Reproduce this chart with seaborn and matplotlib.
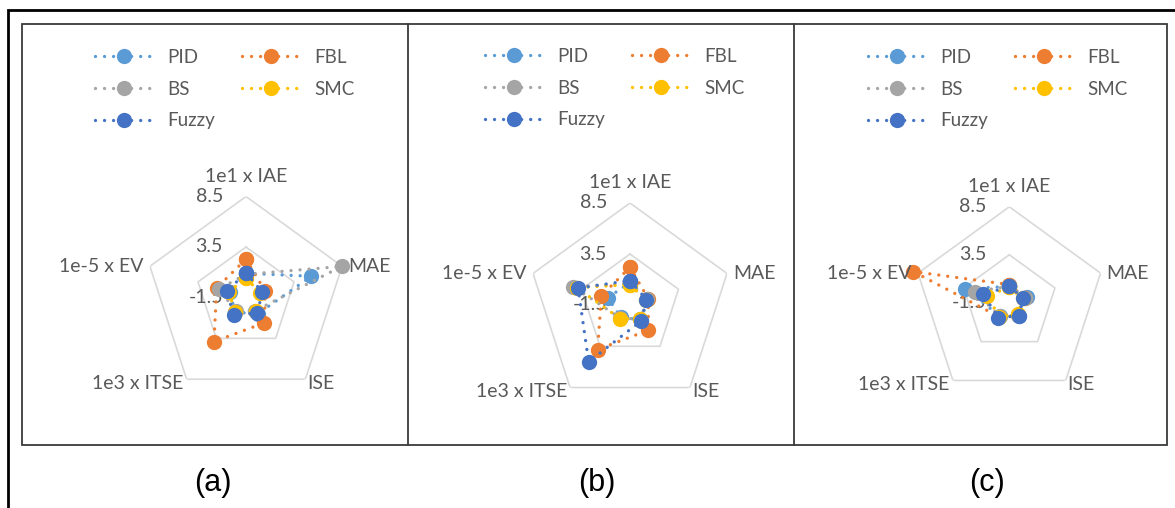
import numpy as np
import pandas as pd
import matplotlib
matplotlib.use("Agg")
import matplotlib.pyplot as plt
import seaborn as sns
from matplotlib.lines import Line2D
from matplotlib.patches import Rectangle
from matplotlib.transforms import ScaledTranslation

# ---------------- data ----------------
categories = ["1e1 x IAE", "MAE", "ISE", "1e3 x ITSE", "1e-5 x EV"]
controllers = ["PID", "FBL", "BS", "SMC", "Fuzzy"]
r_ticks = [-1.5, 3.5, 8.5]
tick_labels = ["-1.5", "3.5", "8.5"]
panel_labels = ["(a)", "(b)", "(c)"]

# panel (a)
pid_a = [0.9, 5.3, 0.5, 0.3, 0.2]
fbl_a = [2.3, 0.5, 1.6, 3.9, 1.55]
bs_a = [0.8, 8.45, 0.1, 0.2, 1.3]
smc_a = [0.4, 0.0, 0.2, 0.3, 0.3]
fuzzy_a = [0.95, 0.2, 0.4, 0.6, 0.5]

# panel (b)
pid_b = [0.7, 0.3, 0.3, 0.0, 0.8]
fbl_b = [2.2, 0.4, 1.55, 3.9, 1.45]
bs_b = [0.6, 0.3, 0.2, 0.1, 4.35]
smc_b = [0.5, 0.1, 0.2, 0.15, 4.0]
fuzzy_b = [0.9, 0.2, 0.4, 5.4, 3.85]

# panel (c)
pid_c = [0.2, 0.4, 0.2, 0.2, 3.3]
fbl_c = [0.4, 0.2, 0.1, 0.3, 9.0]
bs_c = [0.2, 0.2, 0.1, 0.2, 2.3]
smc_c = [0.1, 0.0, 0.0, 0.3, 0.9]
fuzzy_c = [0.2, 0.05, 0.15, 0.45, 1.35]

panels = [
    [pid_a, fbl_a, bs_a, smc_a, fuzzy_a],
    [pid_b, fbl_b, bs_b, smc_b, fuzzy_b],
    [pid_c, fbl_c, bs_c, smc_c, fuzzy_c],
]

colors = {"PID": "#5B9BD5", "FBL": "#ED7D31", "BS": "#A5A5A5",
          "SMC": "#FFC000", "Fuzzy": "#4472C4"}

# ---------------- style ----------------
sns.set_theme(style="white")
plt.rcParams["font.family"] = ["Lato", "DejaVu Sans"]
TXT = "#595959"
DOT = (0, (0.01, 2.7))
FS = 14

W, H = 1175, 508
fig = plt.figure(figsize=(W / 100, H / 100), dpi=100)
fig.patch.set_facecolor("white")

# layout (pixels)
centers = [(246, 297.5, 101), (630, 305, 102), (1009.3, 302.8, 96)]
legend_anchor = [(95, 49), (485, 48), (868, 49)]
label_x = [213, 597, 987]

theta = np.linspace(0, 2 * np.pi, len(categories), endpoint=False)

for pi_, (series, (cx, cy, R)) in enumerate(zip(panels, centers)):
    ax = fig.add_axes([(cx - R) / W, 1 - (cy + R) / H, 2 * R / W, 2 * R / H],
                      projection="polar")
    ax.set_theta_offset(np.pi / 2)
    ax.set_theta_direction(-1)
    ax.patch.set_alpha(0)

    # pentagon grid
    tt = np.append(theta, theta[0])
    for rv in r_ticks[1:]:
        ax.plot(tt, [rv] * len(tt), color="#D9D9D9", lw=1.2, zorder=1)

    rows = []
    for name, vals in zip(controllers, series):
        for step, k in enumerate(list(range(len(categories))) + [0]):
            rows.append({"controller": name,
                         "theta": 2 * np.pi if step == len(categories) else theta[k],
                         "value": vals[k]})
    df = pd.DataFrame(rows)

    sns.lineplot(data=df, x="theta", y="value", hue="controller",
                 hue_order=controllers, palette=colors, estimator=None,
                 sort=False, units="controller", marker="o", markersize=11,
                 markeredgewidth=0, linewidth=2.4, linestyle=DOT,
                 dash_capstyle="round", legend=False, ax=ax, clip_on=False,
                 zorder=3)

    ax.set_ylim(-1.5, 8.5)
    ax.set_xticks([])
    ax.set_yticks([])
    ax.set_xlabel("")
    ax.set_ylabel("")
    ax.grid(False)
    ax.spines["polar"].set_visible(False)

    # radial tick labels
    tr = ax.transData + ScaledTranslation(-23 / 100, 0, fig.dpi_scale_trans)
    for rv, lab in zip(r_ticks, tick_labels):
        ax.text(0, rv, lab, transform=tr, ha="right", va="center",
                fontsize=FS, color=TXT, zorder=2)

    # category labels
    offs = [(0, 20, "center"), (6, 0, "left"), (2, -4, "left"),
            (-3, -4, "right"), (-6, 0, "right")]
    for k, cat in enumerate(categories):
        dx, dy, ha = offs[k]
        t = ax.transData + ScaledTranslation(dx / 100, dy / 100, fig.dpi_scale_trans)
        ax.text(theta[k], 8.5, cat, transform=t, ha=ha, va="center",
                fontsize=FS, color=TXT)

    # legend
    handles = [Line2D([], [], color=colors[c], linestyle=DOT, lw=2.4,
                      dash_capstyle="round", marker="o", markersize=11,
                      markeredgewidth=0) for c in controllers]
    order = [0, 2, 4, 1, 3]
    lx, ly = legend_anchor[pi_]
    fig.legend([handles[i] for i in order], [controllers[i] for i in order],
               ncol=2, loc="upper left",
               bbox_to_anchor=(lx / W, 1 - ly / H),
               frameon=False, handlelength=3.1, handletextpad=0.75,
               columnspacing=1.45, labelspacing=0.78, fontsize=13.5,
               labelcolor=TXT, borderpad=0, borderaxespad=0, numpoints=1)

    fig.text(label_x[pi_] / W, 1 - 483 / H, panel_labels[pi_], ha="center",
             va="center", fontsize=22, color="black", family="Liberation Sans")

# table frame
fig.add_artist(Rectangle((22 / W, 1 - 445 / H), (1167 - 22) / W, (445 - 24) / H,
                         transform=fig.transFigure, fill=False,
                         edgecolor="#3a3a3a", lw=1.3))
for xd in [408, 794]:
    fig.add_artist(Line2D([xd / W, xd / W], [1 - 445 / H, 1 - 24 / H],
                          transform=fig.transFigure, color="#3a3a3a", lw=1.3))
# outer border
fig.add_artist(Rectangle((8 / W, -0.1), 1.2, 1 - 10 / H + 0.1,
                         transform=fig.transFigure, fill=False,
                         edgecolor="black", lw=2))

fig.savefig("out.png", dpi=100)
